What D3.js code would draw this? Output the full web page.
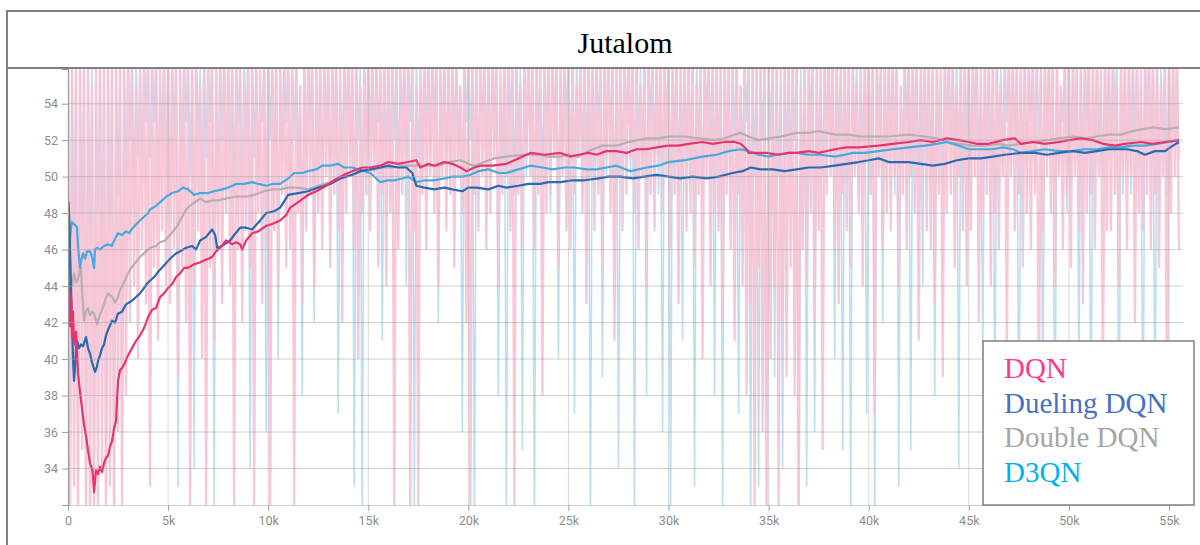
<!DOCTYPE html>
<html>
<head>
<meta charset="utf-8">
<script src="https://cdn.jsdelivr.net/npm/d3@7/dist/d3.min.js"></script>
<style>
  body { margin: 0; background: #fff; }
  svg { display: block; }
</style>
</head>
<body>
<svg id="chart" width="1200" height="545"></svg>
<script>
// ---- chart text ----
const chartTitle = "Jutalom";
const seriesNames = ["DQN", "Dueling DQN", "Double DQN", "D3QN"];

// ---- axis ticks ----
const xTickValues = [0, 5000, 10000, 15000, 20000, 25000, 30000, 35000, 40000, 45000, 50000, 55000];
const xTickLabels = ["0", "5k", "10k", "15k", "20k", "25k", "30k", "35k", "40k", "45k", "50k", "55k"];
const yTickValues = [34, 36, 38, 40, 42, 44, 46, 48, 50, 52, 54];

// ---- smoothed reward curves: [step in thousands, reward] ----
const dqnSmoothed = [
  [0,43.0],[0.05,44.2],[0.1,41.8],[0.15,43.5],[0.2,41.2],[0.25,42.6],[0.3,40.8],[0.4,41.5],[0.5,39.2],[0.6,38.2],
  [0.7,37.3],[0.8,36.4],[0.9,35.8],[1.0,35.0],[1.1,34.3],[1.2,34.0],[1.25,33.6],[1.3,32.7],[1.4,33.9],[1.5,33.7],
  [1.6,34.1],[1.7,33.8],[1.8,34.3],[1.9,34.6],[2.0,34.7],[2.1,35.2],[2.2,35.5],[2.3,36.2],[2.4,36.6],[2.45,37.8],
  [2.5,38.8],[2.6,39.4],[2.7,39.5],[2.8,39.7],[3.0,40.2],[3.2,40.6],[3.4,41.0],[3.6,41.3],[3.8,41.7],[4.0,42.3],
  [4.2,42.7],[4.4,42.8],[4.6,43.4],[4.8,43.6],[5.0,43.9],[5.2,44.1],[5.4,44.5],[5.6,44.7],[5.8,45.0],[6.0,45.0],
  [6.3,45.2],[6.6,45.3],[7.0,45.5],[7.2,45.6],[7.4,45.9],[7.6,46.1],[7.9,46.5],[8.2,46.3],[8.4,46.4],[8.6,46.3],
  [8.7,46.0],[8.9,46.5],[9.2,46.9],[9.5,47.0],[9.9,47.3],[10.2,47.4],[10.6,47.6],[10.9,47.9],[11.1,48.3],[11.5,48.6],
  [12.0,49.0],[12.4,49.2],[12.9,49.5],[13.3,49.8],[13.8,50.1],[14.2,50.3],[14.7,50.5],[15.1,50.5],[15.6,50.6],[16.0,50.8],
  [16.5,50.7],[17.0,50.8],[17.4,50.9],[17.6,50.5],[18.0,50.7],[18.3,50.6],[18.8,50.8],[19.2,50.7],[19.6,50.5],[19.9,50.3],
  [20.3,50.5],[20.6,50.6],[21.2,50.6],[21.9,50.7],[22.5,51.0],[23.1,51.3],[23.8,51.2],[24.6,51.3],[25.1,51.1],[25.5,51.2],
  [26.0,51.3],[26.4,51.2],[26.9,51.4],[27.4,51.4],[27.9,51.3],[28.4,51.5],[28.9,51.5],[29.4,51.6],[30.0,51.7],[30.5,51.7],
  [31.0,51.8],[31.7,51.9],[32.2,51.8],[32.8,51.9],[33.3,51.9],[33.6,51.8],[33.9,51.5],[34.0,51.3],[34.5,51.3],[34.9,51.3],
  [35.5,51.2],[36.0,51.3],[36.4,51.3],[37.0,51.4],[37.5,51.3],[38.3,51.5],[38.9,51.6],[39.5,51.6],[40.5,51.7],[41.2,51.8],
  [42.0,51.9],[42.6,52.0],[43.2,51.9],[43.9,52.1],[44.5,52.0],[45.0,51.9],[45.4,51.8],[46.0,51.8],[46.7,52.0],[47.3,52.1],
  [47.6,51.8],[48.2,51.9],[48.8,51.8],[49.5,51.9],[50.0,52.0],[50.6,52.1],[51.2,52.0],[51.7,51.8],[52.3,51.7],[52.8,51.8],
  [53.6,51.9],[54.2,51.8],[54.8,51.9],[55.5,52.0]
];

const duelingSmoothed = [
  [0,43.0],[0.03,48.6],[0.07,47.5],[0.1,46.0],[0.15,44.0],[0.2,42.0],[0.25,40.0],[0.3,38.8],[0.35,39.5],[0.4,40.6],
  [0.45,41.0],[0.55,40.6],[0.65,40.8],[0.75,40.7],[0.9,41.2],[1.0,40.6],[1.1,40.3],[1.2,39.8],[1.35,39.3],[1.45,39.6],
  [1.5,39.9],[1.6,40.2],[1.7,40.6],[1.8,40.8],[1.9,41.3],[2.0,41.6],[2.2,42.1],[2.35,42.0],[2.5,42.5],[2.7,42.6],
  [2.9,43.0],[3.05,43.1],[3.2,43.2],[3.4,43.4],[3.6,43.6],[3.8,43.9],[4.0,44.2],[4.3,44.5],[4.6,44.9],[4.85,45.2],
  [5.1,45.5],[5.4,45.8],[5.6,45.9],[5.9,46.1],[6.2,46.2],[6.4,46.0],[6.6,46.5],[6.9,46.7],[7.2,47.1],[7.35,46.8],
  [7.45,46.1],[7.7,46.2],[8.1,46.5],[8.3,46.8],[8.6,47.2],[8.9,47.2],[9.2,47.1],[9.6,47.6],[9.9,48.0],[10.3,48.1],
  [10.6,48.3],[11.0,49.0],[11.5,49.1],[12.0,49.2],[12.5,49.4],[13.1,49.6],[13.6,49.9],[14.2,50.1],[14.6,50.3],[15.1,50.4],
  [15.6,50.5],[16.0,50.6],[16.5,50.5],[16.9,50.5],[17.2,50.2],[17.4,49.5],[17.8,49.4],[18.3,49.3],[18.8,49.4],[19.2,49.3],
  [19.7,49.2],[20.0,49.4],[20.4,49.4],[21.0,49.3],[21.5,49.5],[21.9,49.4],[22.5,49.5],[23.0,49.6],[23.6,49.6],[24.0,49.7],
  [24.6,49.7],[25.2,49.8],[25.8,49.8],[26.5,49.9],[27.0,50.0],[27.6,50.0],[28.2,49.9],[28.8,50.0],[29.4,50.1],[30.0,50.0],
  [30.6,49.9],[31.2,50.0],[31.9,49.9],[32.5,50.0],[33.2,50.2],[33.7,50.3],[34.1,50.5],[34.6,50.4],[35.2,50.4],[35.8,50.3],
  [36.4,50.4],[37.0,50.5],[37.6,50.5],[38.3,50.6],[38.9,50.7],[39.5,50.8],[40.0,50.9],[40.5,51.0],[41.0,50.8],[41.5,50.8],
  [42.0,50.8],[42.6,50.7],[43.2,50.6],[43.8,50.7],[44.4,50.9],[45.0,51.0],[45.6,51.0],[46.2,51.1],[46.8,51.2],[47.6,51.3],
  [48.3,51.3],[48.9,51.2],[49.5,51.3],[50.2,51.4],[50.8,51.3],[51.4,51.4],[52.0,51.5],[52.9,51.5],[53.4,51.4],[53.8,51.2],
  [54.3,51.4],[54.8,51.4],[55.2,51.7],[55.5,51.9]
];

const doubleSmoothed = [
  [0,44.3],[0.1,44.6],[0.2,44.0],[0.3,44.7],[0.4,44.2],[0.5,44.4],[0.6,44.9],[0.65,45.0],[0.7,43.8],[0.8,42.1],
  [0.9,42.6],[1.0,42.8],[1.1,42.4],[1.2,42.6],[1.3,42.5],[1.4,42.1],[1.45,41.9],[1.55,42.3],[1.7,42.7],[1.85,43.2],
  [2.0,43.6],[2.1,43.5],[2.2,43.4],[2.35,43.1],[2.5,43.4],[2.6,43.8],[2.8,44.2],[3.0,44.7],[3.1,44.9],[3.3,45.2],
  [3.6,45.6],[3.9,45.9],[4.1,46.1],[4.4,46.2],[4.6,46.4],[4.85,46.5],[5.1,46.8],[5.4,47.2],[5.6,47.6],[5.9,48.2],
  [6.2,48.5],[6.6,48.8],[6.9,48.6],[7.2,48.7],[7.5,48.7],[7.9,48.8],[8.4,48.9],[8.9,48.9],[9.3,49.0],[9.8,49.2],
  [10.2,49.3],[10.6,49.3],[11.0,49.4],[11.5,49.4],[12.0,49.3],[12.5,49.5],[13.1,49.7],[13.6,49.9],[14.2,50.1],[14.7,50.3],
  [15.3,50.4],[15.8,50.5],[16.3,50.5],[16.8,50.6],[17.4,50.6],[17.9,50.6],[18.5,50.6],[19.0,50.8],[19.6,50.9],[20.0,50.7],
  [20.3,50.6],[20.8,50.8],[21.3,51.0],[21.9,51.1],[22.8,51.2],[23.5,51.2],[24.0,51.1],[24.6,51.1],[25.0,51.2],[25.5,51.1],
  [26.0,51.4],[26.7,51.7],[27.4,51.7],[28.0,51.9],[28.9,52.1],[29.5,52.1],[30.0,52.2],[30.8,52.2],[31.5,52.1],[32.3,52.0],
  [32.8,52.1],[33.3,52.3],[33.6,52.4],[34.0,52.2],[34.5,52.0],[35.0,52.1],[35.6,52.2],[36.4,52.4],[37.0,52.4],[37.5,52.5],
  [38.3,52.3],[39.0,52.3],[39.6,52.2],[40.1,52.2],[41.0,52.2],[42.0,52.3],[42.8,52.2],[43.4,52.1],[43.9,51.9],[44.5,51.8],
  [45.2,51.7],[45.8,51.7],[46.5,51.8],[47.0,51.7],[47.6,51.8],[48.3,51.9],[48.9,52.0],[49.5,52.1],[50.2,52.2],[50.8,52.1],
  [51.4,52.2],[52.0,52.3],[52.6,52.3],[53.2,52.5],[53.7,52.6],[54.2,52.7],[54.8,52.6],[55.5,52.7]
];

const d3qnSmoothed = [
  [0,44.7],[0.05,43.5],[0.1,46.5],[0.15,47.2],[0.2,47.5],[0.3,47.4],[0.4,47.3],[0.45,47.2],[0.5,46.2],[0.6,45.0],
  [0.7,45.6],[0.75,45.8],[0.85,45.5],[0.95,45.9],[1.1,45.9],[1.2,45.6],[1.3,45.0],[1.35,46.0],[1.45,46.1],[1.6,46.0],
  [1.8,46.2],[2.0,46.3],[2.2,46.2],[2.35,46.6],[2.5,46.9],[2.7,46.8],[2.9,47.0],[3.05,46.9],[3.25,47.2],[3.5,47.5],
  [3.8,47.8],[4.0,48.0],[4.1,48.2],[4.4,48.4],[4.7,48.7],[4.9,48.9],[5.2,49.1],[5.5,49.2],[5.75,49.4],[6.0,49.3],
  [6.3,49.0],[6.6,49.1],[7.0,49.1],[7.3,49.2],[7.7,49.3],[8.0,49.4],[8.4,49.6],[8.8,49.6],[9.2,49.7],[9.5,49.6],
  [9.9,49.5],[10.2,49.6],[10.6,49.6],[11.0,49.9],[11.3,50.2],[11.7,50.2],[12.0,50.3],[12.4,50.4],[12.7,50.6],[13.1,50.6],
  [13.5,50.7],[13.8,50.5],[14.2,50.5],[14.5,50.4],[14.8,50.3],[15.1,50.2],[15.4,49.9],[15.6,49.7],[16.0,49.8],[16.3,49.8],
  [16.7,49.9],[17.0,50.0],[17.4,49.7],[17.8,49.8],[18.3,49.8],[18.8,49.9],[19.2,50.0],[19.7,50.0],[20.1,50.1],[20.5,50.3],
  [21.0,50.4],[21.5,50.2],[21.9,50.2],[22.5,50.4],[23.1,50.6],[23.7,50.5],[24.2,50.4],[24.8,50.5],[25.3,50.5],[25.9,50.4],
  [26.4,50.4],[26.9,50.5],[27.4,50.6],[28.1,50.3],[28.5,50.4],[28.9,50.5],[29.5,50.6],[30.0,50.8],[30.8,50.9],[31.7,51.1],
  [32.4,51.2],[33.0,51.4],[33.6,51.5],[34.0,51.4],[34.5,51.2],[35.0,51.1],[35.4,51.2],[36.0,51.3],[36.4,51.3],[37.0,51.2],
  [37.6,51.2],[38.3,51.1],[38.8,51.2],[39.2,51.3],[39.8,51.3],[40.5,51.4],[41.2,51.5],[42.0,51.6],[42.8,51.7],[43.4,51.8],
  [43.9,51.9],[44.5,51.7],[45.0,51.5],[45.6,51.5],[46.2,51.5],[46.7,51.6],[47.2,51.5],[47.6,51.3],[48.2,51.4],[48.8,51.5],
  [49.5,51.4],[50.1,51.4],[50.8,51.5],[51.4,51.5],[52.0,51.6],[52.6,51.6],[53.2,51.7],[53.8,51.7],[54.4,51.8],[55.0,51.9],
  [55.5,52.0]
];

// ---- raw (unsmoothed) episode rewards, one value every 100 steps ----
const rawStepSize = 100;
const pinkRaw = [
  57,31,57,33,56,30,57,35,57,31, 57,30,55,32,57,31,57,34,57,30, 57,33,57,31,56,36,57,32,57,38,
  57,42,57,44,55,40,57,46,57,43, 57,33,57,45,56,41,57,47,57,44, 57,43,57,46,57,39,56,45,57,42,
  57,31,57,44,57,47,55,40,57,32, 57,45,57,41,57,46,56,43,57,48, 57,44,57,31,57,46,57,42,55,47,
  57,45,57,32,57,48,56,43,57,46, 57,30,57,47,57,44,56,49,57,45, 57,46,57,32,57,48,55,43,57,47,
  57,49,57,44,56,48,57,46,57,50, 57,45,57,49,57,47,56,42,57,48, 57,50,57,46,57,40,55,48,57,49,
  57,47,57,50,56,45,57,49,57,44, 57,48,57,31,57,46,56,49,57,50, 57,30,57,47,55,31,57,49,57,46,
  57,50,57,48,57,44,56,50,57,47, 57,49,57,45,57,50,55,48,57,42, 57,31,57,49,56,47,57,50,57,46,
  57,48,57,51,57,44,56,49,57,50, 57,47,57,32,57,49,55,46,57,51, 57,50,57,46,56,49,57,38,57,48,
  57,49,57,51,57,45,56,50,57,47, 57,46,57,49,55,51,57,48,57,43, 57,50,57,47,57,49,56,45,57,51,
  57,48,57,41,56,50,57,47,57,49, 57,51,57,48,57,46,55,50,57,44, 57,49,57,47,56,51,57,48,57,50,
  57,46,57,49,57,43,56,50,57,47, 57,48,57,45,55,49,57,40,57,50, 57,44,57,48,57,47,56,42,57,49,
  57,46,57,41,57,49,55,44,57,38, 57,43,57,31,56,45,57,36,57,30, 57,40,57,44,57,32,56,42,57,39,
  57,45,57,38,57,30,55,46,57,44, 57,48,57,42,56,47,57,35,57,49, 57,50,57,46,57,43,56,49,57,47,
  57,45,57,50,55,48,57,44,57,51, 57,49,57,37,57,50,56,46,57,48, 57,47,57,50,57,44,55,49,57,46,
  57,50,57,48,56,41,57,50,57,47, 57,46,57,43,57,49,56,39,57,48, 57,49,57,45,55,50,57,47,57,44,
  57,47,57,50,57,42,56,48,57,49, 57,44,57,48,57,46,55,50,57,40, 57,50,57,47,56,49,57,45,57,48,
  57,46,57,49,57,37,56,47,57,50, 57,48,57,44,57,50,55,46,57,49, 57,45,57,50,56,47,57,43,57,48,
  57,49,57,46,57,50,56,38,57,47, 57,47,57,49,55,44,57,50,57,46, 57,50,57,42,57,48,56,47,57,49,
  57,46,57,49,57,45,55,50,57,36, 57,48,57,50,57,46
];
const blueRaw = [
  57,30,57,44,57,33,56,47,57,31, 57,46,57,30,55,48,57,45,57,32, 57,47,57,31,57,49,56,33,57,50,
  57,52,57,48,57,51,56,50,57,53, 57,51,57,53,57,49,55,52,57,50, 57,48,57,52,57,33,56,51,57,53,
  57,50,57,34,57,52,56,49,57,51, 57,53,57,32,55,50,57,52,57,48, 57,51,57,49,57,53,56,50,57,52,
  57,34,57,51,57,49,55,53,57,36, 57,52,57,50,57,40,56,51,57,53, 57,49,57,52,57,50,55,38,57,51,
  57,53,57,42,57,51,56,50,57,52, 57,50,57,52,57,37,55,51,57,53, 57,51,57,33,57,52,56,31,57,50,
  57,52,57,50,57,53,55,41,57,51, 57,50,57,52,57,49,56,53,57,44, 57,53,57,32,57,51,55,50,57,52,
  57,51,57,53,57,42,56,52,57,50, 57,49,57,52,57,51,55,36,57,53, 57,52,57,30,57,50,56,53,57,51,
  57,50,57,52,57,38,55,51,57,31, 57,53,57,49,57,52,56,35,57,50, 57,51,57,30,57,53,55,50,57,52,
  57,48,57,52,57,40,56,51,57,53, 57,50,57,37,57,52,55,49,57,51, 57,31,57,51,57,53,56,39,57,50,
  57,52,57,48,57,34,55,51,57,53, 57,50,57,31,57,52,56,50,57,38, 57,53,57,51,57,49,55,36,57,52,
  57,31,57,52,57,50,56,41,57,51, 57,50,57,33,57,52,55,49,57,53, 57,52,57,38,57,51,56,32,57,50,
  57,49,57,52,57,37,55,51,57,53, 57,31,57,50,57,33,56,52,57,36, 57,52,57,39,57,50,55,34,57,51,
  57,50,57,52,57,31,56,49,57,33, 57,53,57,36,57,51,55,50,57,52, 57,51,57,40,57,52,56,35,57,50,
  57,32,57,51,57,49,55,52,57,37, 57,50,57,31,57,53,56,42,57,51, 57,52,57,49,57,33,55,51,57,53,
  57,35,57,52,57,50,56,44,57,51, 57,50,57,38,57,52,55,49,57,53, 57,52,57,51,57,34,56,50,57,52,
  57,49,57,53,57,51,55,40,57,50, 57,51,57,36,57,52,56,50,57,53, 57,50,57,52,57,33,55,51,57,49,
  57,53,57,50,57,52,56,37,57,51, 57,52,57,31,57,50,55,53,57,48, 57,50,57,52,57,39,56,51,57,53,
  57,34,57,51,57,52,55,50,57,52, 57,51,57,53,57,32,56,49,57,50, 57,49,57,52,57,51,55,33,57,53,
  57,52,57,35,57,50,56,52,57,49, 57,50,57,52,57,51
];

// ---- drawing ----
const svg = d3.select("#chart");
const W = 1200, H = 545;
const plot = { left: 68, right: 1183, top: 69, bottom: 505 };

const x = d3.scaleLinear().domain([0, 55700]).range([plot.left, plot.right]);
const y = d3.scaleLinear().domain([32, 55.9]).range([plot.bottom, plot.top]);

svg.append("rect").attr("width", W).attr("height", H).attr("fill", "#fff");

svg.append("defs").append("clipPath").attr("id", "plot-clip")
  .append("rect")
  .attr("x", plot.left).attr("y", plot.top)
  .attr("width", plot.right - plot.left).attr("height", plot.bottom - plot.top);

const body = svg.append("g").attr("clip-path", "url(#plot-clip)");

// raw traces
const rawLine = d3.line()
  .x((d, i) => x(i * rawStepSize))
  .y(d => y(d));

body.append("path").datum(blueRaw)
  .attr("d", rawLine)
  .attr("fill", "none")
  .attr("stroke", "#a6d4ec")
  .attr("stroke-opacity", 0.75)
  .attr("stroke-width", 1.6);

body.append("path").datum(pinkRaw)
  .attr("d", rawLine)
  .attr("fill", "none")
  .attr("stroke", "#f7c2d5")
  .attr("stroke-opacity", 0.9)
  .attr("stroke-width", 2.3)
  .attr("stroke-linejoin", "miter");

// grid
const grid = svg.append("g");
grid.selectAll("line.h").data(yTickValues).join("line")
  .attr("class", "h")
  .attr("x1", plot.left).attr("x2", plot.right)
  .attr("y1", d => y(d)).attr("y2", d => y(d))
  .attr("stroke", "#a8a8a8").attr("stroke-opacity", 0.55).attr("stroke-width", 1);
grid.selectAll("line.v").data(xTickValues.filter(v => v > 0)).join("line")
  .attr("class", "v")
  .attr("x1", d => x(d)).attr("x2", d => x(d))
  .attr("y1", plot.top).attr("y2", plot.bottom)
  .attr("stroke", "#a8a8a8").attr("stroke-opacity", 0.45).attr("stroke-width", 1);

// smoothed curves
const smoothLine = d3.line()
  .x(d => x(d[0] * 1000))
  .y(d => y(d[1]));

const curves = [
  { data: doubleSmoothed, color: "#b8aeb3" },
  { data: d3qnSmoothed, color: "#45abdf" },
  { data: duelingSmoothed, color: "#2a6ab3" },
  { data: dqnSmoothed, color: "#e8336c" }
];
curves.forEach(c => {
  body.append("path").datum(c.data)
    .attr("d", smoothLine)
    .attr("fill", "none")
    .attr("stroke", c.color)
    .attr("stroke-width", 2.2)
    .attr("stroke-linejoin", "round");
});

// axes
const tickFont = "Roboto, 'DejaVu Sans', sans-serif";
const yAxis = svg.append("g")
  .attr("transform", `translate(${plot.left},0)`)
  .call(d3.axisLeft(y).tickValues(yTickValues).tickSize(6).tickSizeOuter(6).tickPadding(4));
const xAxis = svg.append("g")
  .attr("transform", `translate(0,${plot.bottom})`)
  .call(d3.axisBottom(x).tickValues(xTickValues).tickSize(6).tickSizeOuter(0).tickPadding(5)
    .tickFormat((d, i) => xTickLabels[i]));

yAxis.select(".domain").attr("stroke", "#9a9a9a").attr("stroke-width", 1.2);
xAxis.select(".domain").attr("stroke", "#cfcfcf");
[yAxis, xAxis].forEach(a => {
  a.selectAll(".tick line").attr("stroke", "#a0a0a0");
  a.selectAll(".tick text")
    .attr("fill", "#8e8e8e")
    .style("font-family", tickFont)
    .style("font-size", "12.5px");
});

// frame around title
svg.append("rect")
  .attr("x", 7).attr("y", 11).attr("width", 1260).attr("height", 620)
  .attr("fill", "none").attr("stroke", "#7f7f7f").attr("stroke-width", 2);
svg.append("line")
  .attr("x1", 7).attr("x2", W).attr("y1", 68).attr("y2", 68)
  .attr("stroke", "#7f7f7f").attr("stroke-width", 2);

svg.append("text")
  .attr("x", 625).attr("y", 53)
  .attr("text-anchor", "middle")
  .style("font-family", "'Liberation Serif', 'Times New Roman', serif")
  .style("font-size", "30px")
  .attr("fill", "#000")
  .text(chartTitle);

// legend
const legendColors = ["#ff3a8c", "#4472c4", "#a6a6a6", "#00b0f0"];
const legend = svg.append("g");
legend.append("rect")
  .attr("x", 983).attr("y", 341).attr("width", 211).attr("height", 164)
  .attr("fill", "#fff").attr("stroke", "#808080").attr("stroke-width", 1.5);
legend.selectAll("text").data(seriesNames).join("text")
  .attr("x", 1004)
  .attr("y", (d, i) => 378 + i * 34.5)
  .attr("fill", (d, i) => legendColors[i])
  .style("font-family", "'Liberation Serif', 'Times New Roman', serif")
  .style("font-size", "29px")
  .text(d => d);
</script>
</body>
</html>
